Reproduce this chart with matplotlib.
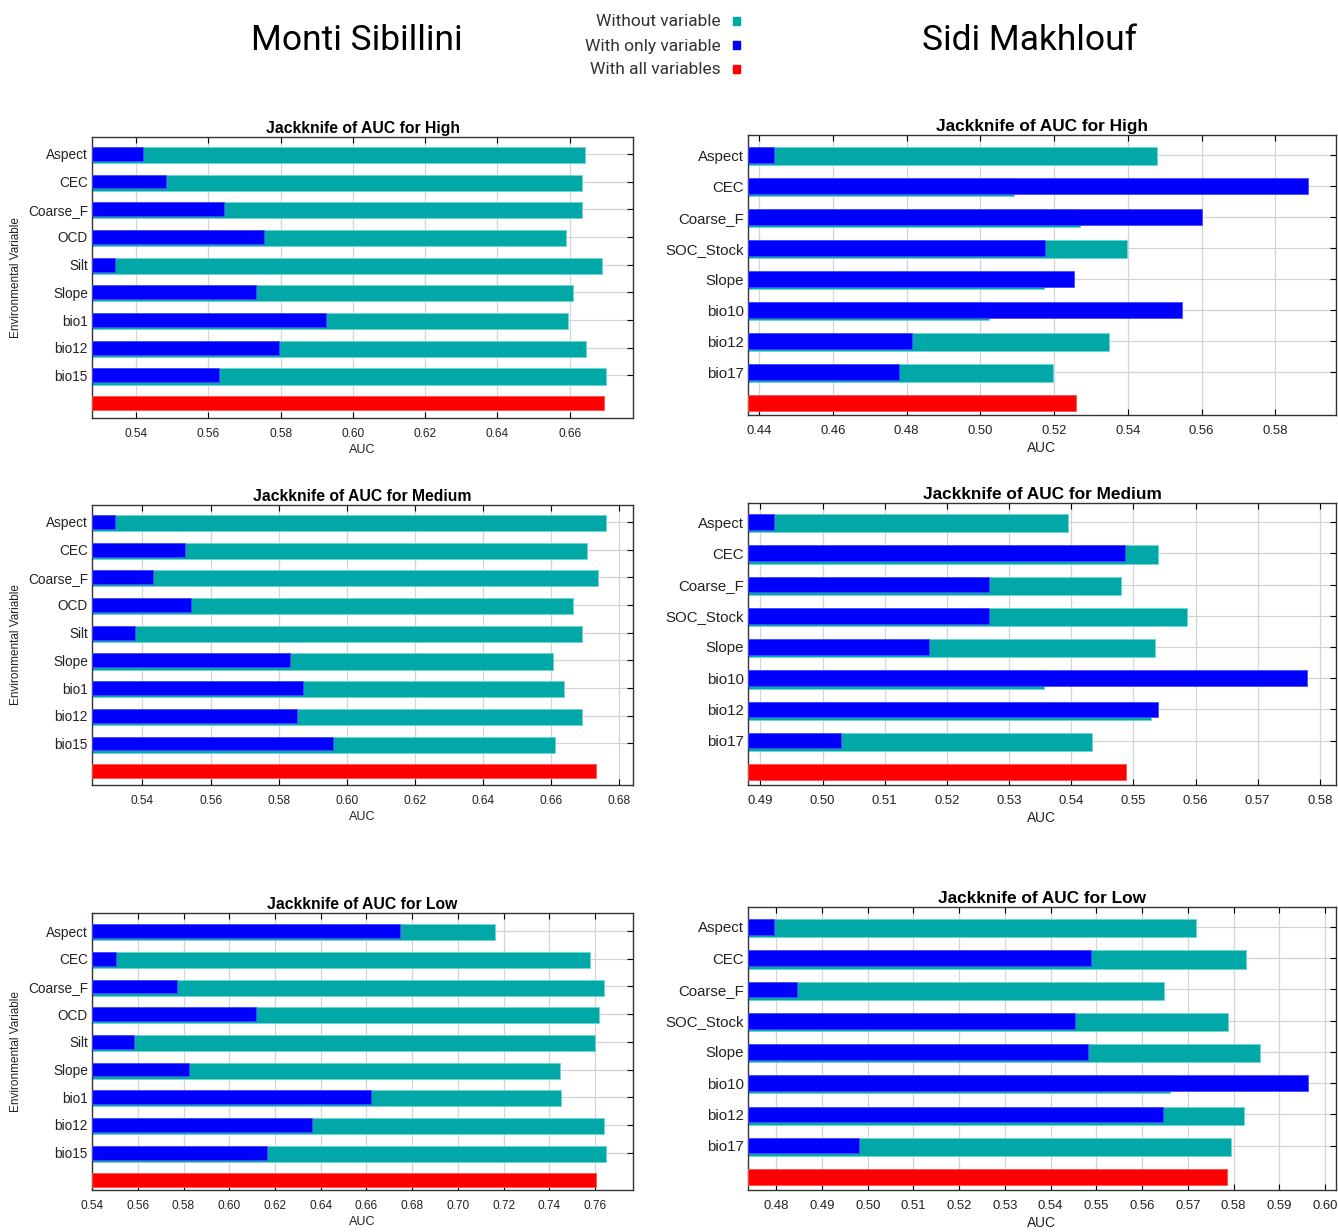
import numpy as np
import matplotlib
matplotlib.use("Agg")
import matplotlib.pyplot as plt

plt.rcParams['font.family'] = ['Liberation Sans', 'DejaVu Sans']

# Variabeln
vars_monti = ['Aspect', 'CEC', 'Coarse_F', 'OCD', 'Silt', 'Slope', 'bio1', 'bio12', 'bio15']
vars_sidi = ['Aspect', 'CEC', 'Coarse_F', 'SOC_Stock', 'Slope', 'bio10', 'bio12', 'bio17']

# Monti Sibillini - High
monti_high_without = [0.6641, 0.6635, 0.6635, 0.6590, 0.6689, 0.6608, 0.6596, 0.6644, 0.6701]
monti_high_only = [0.5420, 0.5482, 0.5642, 0.5753, 0.5342, 0.5732, 0.5925, 0.5796, 0.5628]
monti_high_all = 0.6695

# Monti Sibillini - Medium
monti_med_without = [0.6762, 0.6704, 0.6738, 0.6663, 0.6691, 0.6605, 0.6636, 0.6689, 0.6611]
monti_med_only = [0.5320, 0.5524, 0.5431, 0.5542, 0.5379, 0.5832, 0.5870, 0.5855, 0.5959]
monti_med_all = 0.6732

# Monti Sibillini - Low
monti_low_without = [0.7163, 0.7576, 0.7641, 0.7619, 0.7600, 0.7448, 0.7450, 0.7637, 0.7650]
monti_low_only = [0.6746, 0.5505, 0.5771, 0.6117, 0.5584, 0.5826, 0.6621, 0.6360, 0.6163]
monti_low_all = 0.7606

# Sidi Makhlouf - High
sidi_high_without = [0.5480, 0.5090, 0.5270, 0.5399, 0.5172, 0.5023, 0.5348, 0.5196]
sidi_high_only = [0.4439, 0.5888, 0.5601, 0.5176, 0.5254, 0.5548, 0.4814, 0.4779]
sidi_high_all = 0.5260

# Sidi Makhlouf - Medium
sidi_med_without = [0.5395, 0.5540, 0.5480, 0.5587, 0.5535, 0.5356, 0.5528, 0.5434]
sidi_med_only = [0.4922, 0.5486, 0.5267, 0.5267, 0.5171, 0.5780, 0.5540, 0.5029]
sidi_med_all = 0.5488

# Sidi Makhlouf - Low
sidi_low_without = [0.5718, 0.5827, 0.5648, 0.5788, 0.5858, 0.5661, 0.5822, 0.5794]
sidi_low_only = [0.4796, 0.5489, 0.4845, 0.5454, 0.5481, 0.5962, 0.5645, 0.4980]
sidi_low_all = 0.5785

teal = '#00a8a8'
blau = '#0000ff'
rot = '#ff0000'


def jackknife(ax, names, without, only, alle, titel, xlim, xticks, ylabel, rand, k=1.0):
    n = len(names)
    y = np.arange(n)
    lo = xlim[0]
    w = np.array(without) - lo
    o = np.array(only) - lo
    # "ohne Variable" etwas tiefer, damit unter dem blauen Balken ein Streifen bleibt
    ax.barh(y + 0.04, w, height=0.58, left=lo, color=teal, edgecolor='#6fd6d6', linewidth=0.6, zorder=2)
    ax.barh(y, o, height=0.5, left=lo, color=blau, edgecolor='#4a4aff', linewidth=0.6, zorder=3)
    ax.barh([n], [alle - lo], height=0.5, left=lo, color=rot, edgecolor='#ff5050', linewidth=0.6, zorder=3)
    ax.set_xlim(*xlim)
    ax.set_ylim(n + rand[0], -rand[1])
    ax.set_yticks(y)
    ax.set_yticklabels(names, fontsize=9.8 * k, color='#222222')
    ax.set_xticks(xticks)
    ax.set_xticklabels([f'{t:.2f}' for t in xticks], fontsize=8.6 * k, color='#222222')
    ax.tick_params(direction='in', top=True, right=True, length=4, width=0.8)
    ax.tick_params(axis='x', pad=7)
    ax.tick_params(axis='y', pad=3)
    ax.grid(True, color='#d4d4d4', linewidth=0.9, zorder=0)
    ax.set_axisbelow(True)
    for s in ax.spines.values():
        s.set_color('#333333')
        s.set_linewidth(1.0)
    ax.set_title(titel, fontsize=11.3 * k, fontweight='bold', pad=3)
    ax.set_xlabel('AUC', fontsize=9 * k, labelpad=3, color='#222222')
    if ylabel:
        ax.set_ylabel('Environmental Variable', fontsize=8.5, labelpad=4, color='#222222')


fig = plt.figure(figsize=(13.38, 12.32), dpi=100)

ax1 = fig.add_axes([0.0688, 0.6607, 0.4043, 0.2281])
ax2 = fig.add_axes([0.5590, 0.6631, 0.4395, 0.2273])
ax3 = fig.add_axes([0.0688, 0.3628, 0.4043, 0.2273])
ax4 = fig.add_axes([0.5590, 0.3628, 0.4395, 0.2289])
ax5 = fig.add_axes([0.0688, 0.0341, 0.4043, 0.2248])
ax6 = fig.add_axes([0.5590, 0.0341, 0.4395, 0.2297])

jackknife(ax1, vars_monti, monti_high_without, monti_high_only, monti_high_all,
          'Jackknife of AUC for High', (0.5278, 0.6775), np.arange(0.54, 0.665, 0.02), True, (0.54, 0.61))
jackknife(ax2, vars_sidi, sidi_high_without, sidi_high_only, sidi_high_all,
          'Jackknife of AUC for High', (0.4369, 0.5965), np.arange(0.44, 0.585, 0.02), False, (0.39, 0.65), 1.1)
jackknife(ax3, vars_monti, monti_med_without, monti_med_only, monti_med_all,
          'Jackknife of AUC for Medium', (0.5252, 0.6840), np.arange(0.54, 0.685, 0.02), True, (0.5, 0.61))
jackknife(ax4, vars_sidi, sidi_med_without, sidi_med_only, sidi_med_all,
          'Jackknife of AUC for Medium', (0.4880, 0.5826), np.arange(0.49, 0.5805, 0.01), False, (0.42, 0.61), 1.1)
jackknife(ax5, vars_monti, monti_low_without, monti_low_only, monti_low_all,
          'Jackknife of AUC for Low', (0.5400, 0.7766), np.arange(0.54, 0.765, 0.02), True, (0.35, 0.65))
jackknife(ax6, vars_sidi, sidi_low_without, sidi_low_only, sidi_low_all,
          'Jackknife of AUC for Low', (0.4738, 0.6024), np.arange(0.48, 0.6005, 0.01), False, (0.42, 0.64), 1.1)

# Ueberschriften
kopf = ['Roboto', 'DejaVu Sans']
fig.text(357 / 1338, 1 - 40 / 1232, 'Monti Sibillini', fontsize=25.5, family=kopf, ha='center', va='center')
fig.text(1030 / 1338, 1 - 40 / 1232, 'Sidi Makhlouf', fontsize=25.5, family=kopf, ha='center', va='center')

# Legende
leg_labels = ['Without variable', 'With only variable', 'With all variables']
leg_colors = [teal, blau, rot]
for i, (lab, c) in enumerate(zip(leg_labels, leg_colors)):
    yy = 1 - (22 + 24 * i) / 1232
    fig.text(721 / 1338, yy, lab, fontsize=12.5, family=kopf, ha='right', va='center', color='#333333')
    fig.patches.append(plt.Rectangle((733 / 1338, yy - 3 / 1232), 7 / 1338, 8 / 1232,
                                     transform=fig.transFigure, color=c, figure=fig))

fig.savefig('out.png', dpi=100)
